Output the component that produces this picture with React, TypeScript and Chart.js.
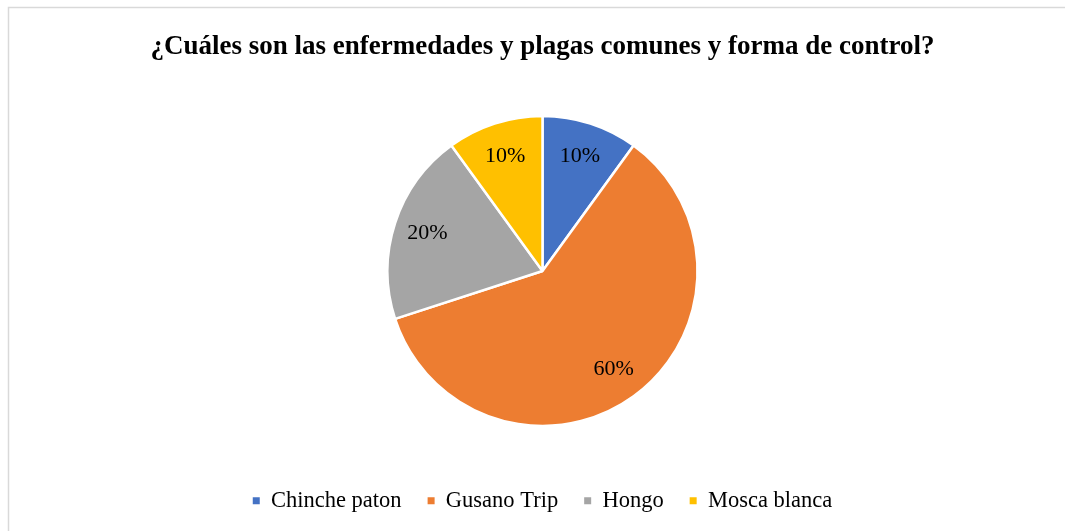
import React, { useEffect, useRef } from "react";
import { Chart, registerables } from "chart.js";

Chart.register(...registerables);

const categories = ["Chinche paton", "Gusano Trip", "Hongo", "Mosca blanca"];
const values = [10, 60, 20, 10];
const colors = ["#4472C4", "#ED7D31", "#A5A5A5", "#FFC000"];
const titleText = "¿Cuáles son las enfermedades y plagas comunes y forma de control?";

const SERIF = "'Liberation Serif', 'Times New Roman', serif";

const frame = {
  id: "frame",
  beforeDraw(chart: any) {
    const ctx = chart.ctx;
    ctx.save();
    ctx.fillStyle = "#ffffff";
    ctx.fillRect(0, 0, chart.width, chart.height);
    ctx.strokeStyle = "#d9d9d9";
    ctx.lineWidth = 1.5;
    ctx.beginPath();
    ctx.moveTo(8.5, chart.height);
    ctx.lineTo(8.5, 7.5);
    ctx.lineTo(chart.width, 7.5);
    ctx.stroke();
    ctx.restore();
  },
};

const sliceLabels = {
  id: "sliceLabels",
  afterDatasetsDraw(chart: any) {
    const ctx = chart.ctx;
    const meta = chart.getDatasetMeta(0);
    const data = chart.data.datasets[0].data as number[];
    const total = data.reduce((a, b) => a + b, 0);
    ctx.save();
    ctx.font = `22px ${SERIF}`;
    ctx.fillStyle = "#000000";
    ctx.textAlign = "center";
    ctx.textBaseline = "middle";
    meta.data.forEach((arc: any, i: number) => {
      const p = arc.getProps(["x", "y", "startAngle", "endAngle", "outerRadius"], true);
      const mid = (p.startAngle + p.endAngle) / 2;
      const r = p.outerRadius * 0.78;
      const pct = Math.round((data[i] / total) * 100) + "%";
      ctx.fillText(pct, p.x + Math.cos(mid) * r, p.y + Math.sin(mid) * r);
    });
    ctx.restore();
  },
};

export default function App() {
  const ref = useRef<HTMLCanvasElement>(null);
  useEffect(() => {
    const chart = new Chart(ref.current!, {
      type: "pie",
      data: {
        labels: categories,
        datasets: [
          {
            data: values,
            backgroundColor: colors,
            borderColor: "#ffffff",
            borderWidth: 2.5,
            radius: 155,
          },
        ],
      },
      options: {
        animation: false,
        responsive: true,
        maintainAspectRatio: false,
        layout: { padding: { left: 20, right: 0, top: 0, bottom: 9 } },
        plugins: {
          title: {
            display: true,
            text: titleText,
            color: "#000000",
            font: { family: SERIF, size: 27, weight: "bold" },
            padding: { top: 31, bottom: 15 },
          },
          legend: {
            position: "bottom",
            labels: {
              color: "#000000",
              font: { family: SERIF, size: 22.5 },
              boxWidth: 7,
              boxHeight: 7,
              padding: 26,
              generateLabels(chart: any) {
                const items = Chart.overrides.pie.plugins.legend.labels.generateLabels(chart);
                return items.map((it: any) => ({ ...it, lineWidth: 0, strokeStyle: it.fillStyle }));
              },
            },
          },
          tooltip: { enabled: false },
        },
      },
      plugins: [frame, sliceLabels],
    });
    return () => chart.destroy();
  }, []);
  return (
    <div style={{ position: "fixed", left: 0, top: 0, width: 1065, height: 531 }}>
      <canvas ref={ref} />
    </div>
  );
}
